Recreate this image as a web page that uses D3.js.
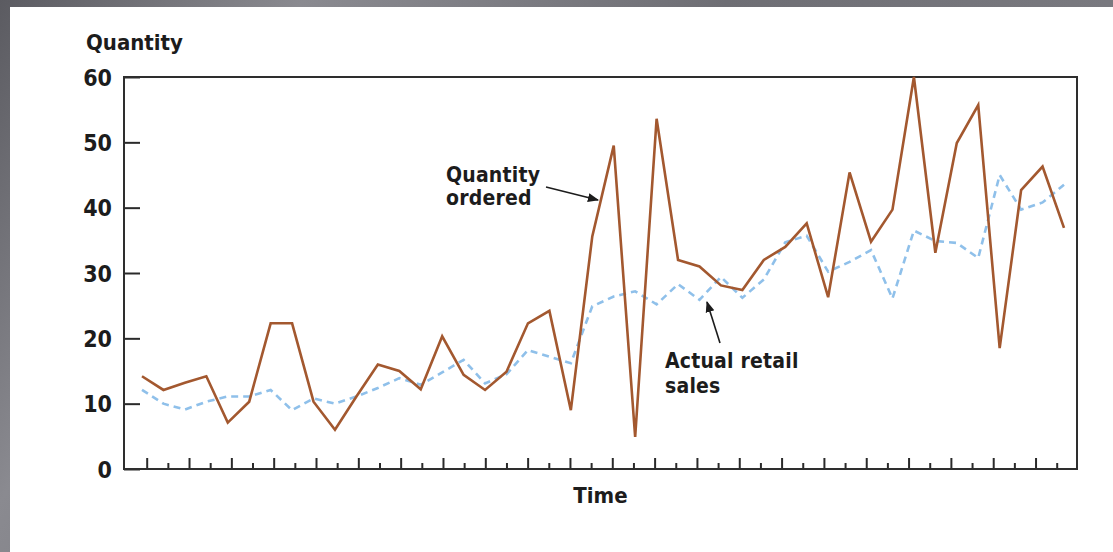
<!DOCTYPE html>
<html>
<head>
<meta charset="utf-8">
<script src="https://cdn.jsdelivr.net/npm/d3@7"></script>
<style>
  body { margin: 0; background: #fff; }
  text { font-family: "DejaVu Sans", sans-serif; font-stretch: condensed; font-weight: bold; fill: #1c1c1c; }
</style>
</head>
<body>
<div id="chart"></div>
<script>
// Data, one value per time step
const periods = d3.range(44);
const quantityOrdered = [14.2, 12.1, 13.2, 14.2, 7.1, 10.3, 22.3, 22.3, 10.3, 6.0, 11.1, 16.0, 15.0, 12.2,
  20.3, 14.4, 12.1, 14.9, 22.3, 24.2, 9.0, 35.6, 49.5, 4.9, 53.6, 32.0, 31.0, 28.1, 27.4, 32.0,
  34.0, 37.6, 26.3, 45.4, 34.8, 39.7, 60.0, 33.1, 49.9, 55.7, 18.5, 42.7, 46.3, 36.9];
const retailSales = [12.1, 10.0, 9.1, 10.3, 11.1, 11.1, 12.1, 9.0, 10.8, 10.0, 11.1, 12.4, 13.9, 12.9,
  14.8, 16.7, 13.1, 14.5, 18.2, 17.2, 16.2, 24.9, 26.4, 27.2, 25.2, 28.3, 25.9, 29.4, 26.2, 29.0,
  34.7, 35.7, 30.2, 31.7, 33.5, 26.1, 36.5, 34.9, 34.6, 32.3, 45.0, 39.7, 40.8, 43.5];
const yTicks = [0, 10, 20, 30, 40, 50, 60];

const width = 1113;
const height = 552;

const svg = d3.select('#chart')
  .append('svg')
  .attr('width', width)
  .attr('height', height);

// gray slide background with white panel
const defs = svg.append('defs');
const grad = defs.append('linearGradient')
  .attr('id', 'bg').attr('x1', 0).attr('y1', 0).attr('x2', 1).attr('y2', 0.3);
grad.append('stop').attr('offset', '0%').attr('stop-color', '#5b5b61');
grad.append('stop').attr('offset', '25%').attr('stop-color', '#8a8a90');
grad.append('stop').attr('offset', '60%').attr('stop-color', '#6e6e74');
grad.append('stop').attr('offset', '100%').attr('stop-color', '#7c7c82');

svg.append('rect').attr('width', width).attr('height', height).attr('fill', 'url(#bg)');
svg.append('rect')
  .attr('x', 10).attr('y', 7)
  .attr('width', width - 10).attr('height', height - 7)
  .attr('fill', '#ffffff');

// Plot area
const plot = { left: 124, right: 1077, top: 77, bottom: 469 };

const y = d3.scaleLinear().domain([0, 60]).range([plot.bottom, plot.top]);
const x = d3.scaleLinear().domain([0, 43]).range([142, 1064]);
const xTick = d3.scaleLinear().domain([0, 43]).range([146.7, 1056.7]);

// Y axis (ticks inside)
const yAxis = svg.append('g')
  .attr('transform', `translate(${plot.left},0)`)
  .call(d3.axisLeft(y).tickValues(yTicks).tickSize(-16).tickPadding(12));
yAxis.select('.domain').remove();
yAxis.selectAll('line').attr('stroke', '#2a2a2a').attr('stroke-width', 2);
yAxis.selectAll('text')
  .style('font-size', '23px')
  .attr('fill', '#1c1c1c')
  .attr('dy', '0.36em');

// X axis (ticks pointing up, alternating major / minor)
const xAxis = svg.append('g')
  .attr('transform', `translate(0,${plot.bottom})`)
  .call(d3.axisBottom(xTick).tickValues(periods).tickSize(-11).tickFormat(''));
xAxis.select('.domain').remove();
xAxis.selectAll('line')
  .attr('stroke', '#2a2a2a').attr('stroke-width', 2)
  .attr('y2', (d, i) => (i % 2 === 0 ? -11 : -6));

// Frame
svg.append('rect')
  .attr('x', plot.left).attr('y', plot.top)
  .attr('width', plot.right - plot.left).attr('height', plot.bottom - plot.top)
  .attr('fill', 'none').attr('stroke', '#2e2e2e').attr('stroke-width', 2);

// Lines
const line = d3.line().x((d, i) => x(i)).y(d => y(d));

svg.append('path')
  .datum(retailSales)
  .attr('d', line)
  .attr('fill', 'none')
  .attr('stroke', '#8fc0ea')
  .attr('stroke-width', 2.6)
  .attr('stroke-dasharray', '7,5');

svg.append('path')
  .datum(quantityOrdered)
  .attr('d', line)
  .attr('fill', 'none')
  .attr('stroke', '#a3582f')
  .attr('stroke-width', 2.6)
  .attr('stroke-linejoin', 'miter');

// Axis titles
svg.append('text')
  .attr('x', 86).attr('y', 50)
  .style('font-size', '22px')
  .text('Quantity');

svg.append('text')
  .attr('x', (plot.left + plot.right) / 2).attr('y', 503)
  .attr('text-anchor', 'middle')
  .style('font-size', '22px')
  .text('Time');

// Annotations
defs.append('marker')
  .attr('id', 'arrow')
  .attr('viewBox', '0 0 10 10')
  .attr('refX', 9).attr('refY', 5)
  .attr('markerWidth', 7).attr('markerHeight', 7)
  .attr('orient', 'auto')
  .append('path')
  .attr('d', 'M0,1 L10,5 L0,9 Z')
  .attr('fill', '#1c1c1c');

const notes = [
  { lines: ['Quantity', 'ordered'], tx: 446, ty: 182, gap: 23, from: [546, 187], to: [598, 200] },
  { lines: ['Actual retail', 'sales'], tx: 665, ty: 368, gap: 25, from: [720, 343], to: [707, 302] }
];

notes.forEach(n => {
  const t = svg.append('text')
    .attr('x', n.tx).attr('y', n.ty)
    .style('font-size', '21px')
    .style('letter-spacing', '0.2px');
  n.lines.forEach((s, i) => {
    t.append('tspan').attr('x', n.tx).attr('dy', i === 0 ? 0 : n.gap).text(s);
  });
  svg.append('line')
    .attr('x1', n.from[0]).attr('y1', n.from[1])
    .attr('x2', n.to[0]).attr('y2', n.to[1])
    .attr('stroke', '#1c1c1c').attr('stroke-width', 1.6)
    .attr('marker-end', 'url(#arrow)');
});
</script>
</body>
</html>
